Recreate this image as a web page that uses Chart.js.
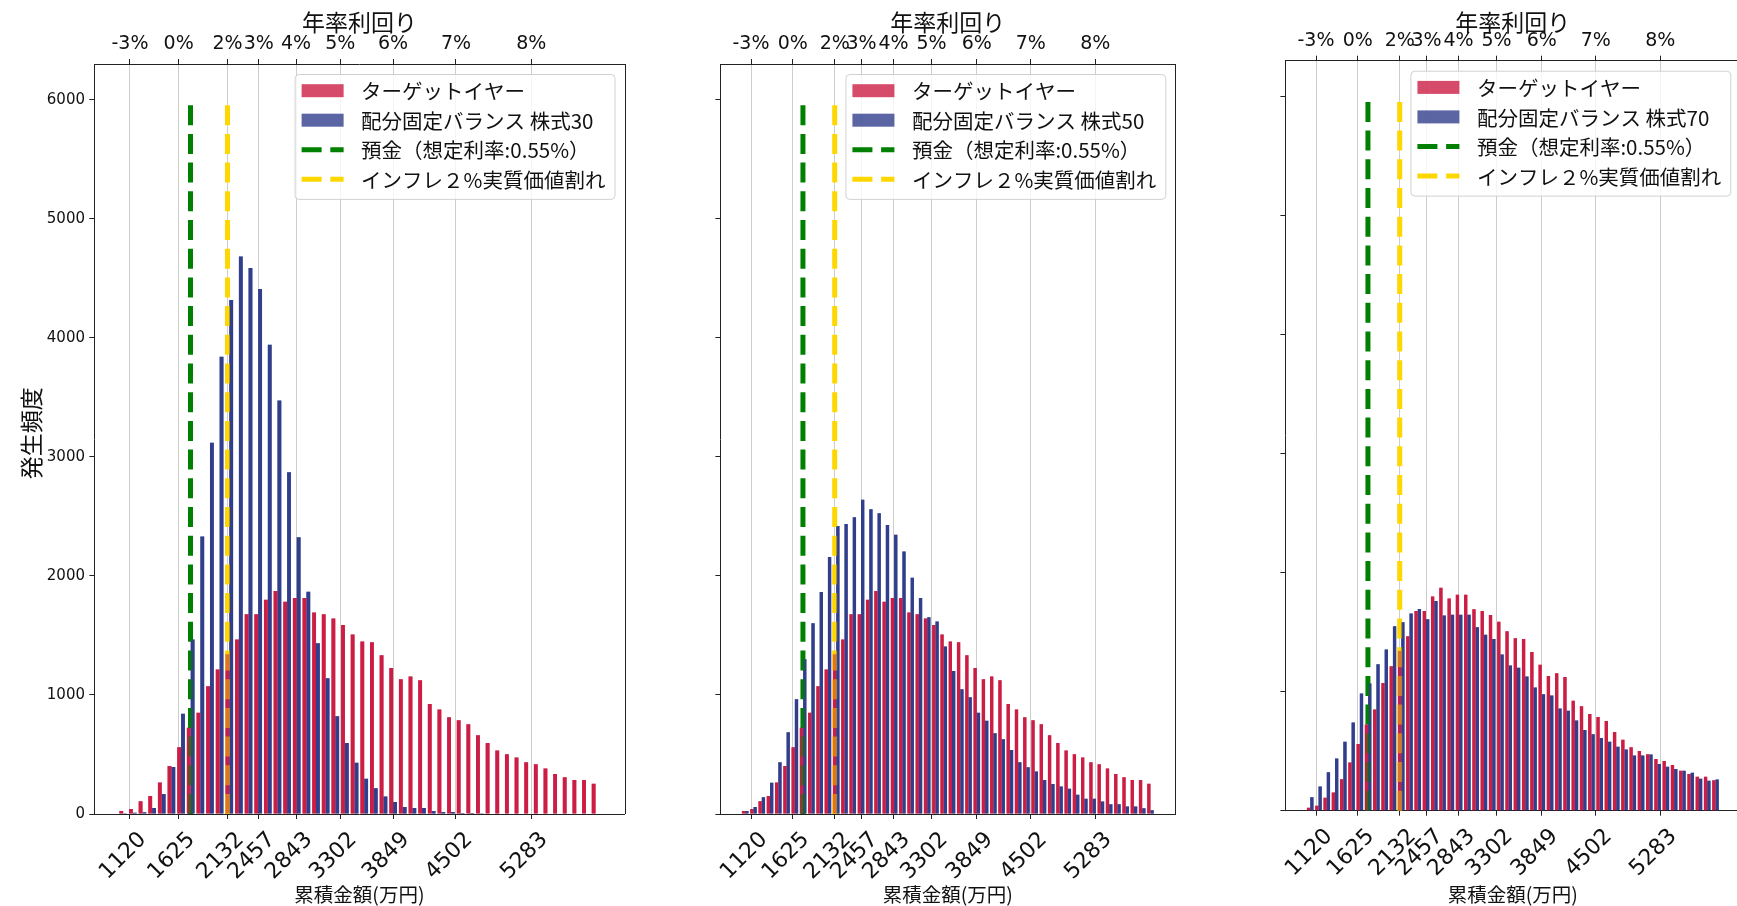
<!DOCTYPE html>
<html>
<head>
<meta charset="utf-8">
<script src="https://cdn.jsdelivr.net/npm/chart.js@4.4.1/dist/chart.umd.min.js"></script>
<style>
  html, body { margin: 0; padding: 0; background: #fff; }
  #wrap { position: relative; width: 1737px; height: 906px; overflow: hidden; background: #fff; }
  #wrap canvas { position: absolute; top: 0; }
</style>
</head>
<body>
<div id="wrap">
  <canvas id="c1" width="640" height="906" style="left:0px"></canvas>
  <canvas id="c2" width="560" height="906" style="left:640px"></canvas>
  <canvas id="c3" width="545" height="906" style="left:1200px"></canvas>
</div>
<script>
// histogram bins (万円), 100 wide
const binCenters = [1050, 1150, 1250, 1350, 1450, 1550, 1650, 1750, 1850, 1950,
  2050, 2150, 2250, 2350, 2450, 2550, 2650, 2750, 2850, 2950,
  3050, 3150, 3250, 3350, 3450, 3550, 3650, 3750, 3850, 3950,
  4050, 4150, 4250, 4350, 4450, 4550, 4650, 4750, 4850, 4950,
  5050, 5150, 5250, 5350, 5450, 5550, 5650, 5750, 5850, 5950];

// ターゲットイヤー (same in all three panels)
const targetYear = [25, 42, 108, 152, 265, 404, 560, 724, 850, 1073,
  1213, 1342, 1465, 1677, 1677, 1799, 1873, 1783, 1815, 1815,
  1693, 1677, 1643, 1587, 1507, 1449, 1443, 1334, 1227, 1131,
  1155, 1123, 924, 877, 812, 787, 753, 662, 597, 533,
  501, 474, 434, 418, 383, 336, 309, 285, 285, 255];

// 配分固定バランス
const balance30 = [3, 10, 15, 50, 167, 395, 843, 1466, 2331, 3118,
  3841, 4318, 4684, 4586, 4409, 3942, 3474, 2871, 2325, 1867,
  1434, 1140, 821, 597, 430, 297, 216, 148, 101, 59,
  50, 50, 25, 17, 17, 8, 8, 3, 0, 5,
  5, 0, 5, 0, 0, 0, 0, 0, 0, 0];
const balance50 = [25, 59, 140, 263, 434, 686, 963, 1299, 1602, 1865,
  2159, 2419, 2436, 2492, 2640, 2559, 2526, 2428, 2346, 2206,
  1985, 1814, 1652, 1618, 1406, 1201, 1047, 980, 851, 784,
  678, 627, 538, 434, 392, 358, 286, 252, 230, 213,
  162, 129, 129, 106, 81, 81, 64, 64, 48, 31];
const balance70 = [112, 204, 324, 439, 579, 741, 985, 1068, 1231, 1354,
  1550, 1583, 1656, 1695, 1608, 1762, 1639, 1647, 1647, 1647,
  1541, 1477, 1443, 1312, 1219, 1200, 1127, 1035, 979, 968,
  859, 839, 758, 677, 643, 610, 579, 537, 515, 464,
  464, 473, 392, 369, 350, 336, 319, 269, 252, 263];

const xTickValues = [1120, 1625, 2132, 2457, 2843, 3302, 3849, 4502, 5283];
const xTickLabels = ['1120', '1625', '2132', '2457', '2843', '3302', '3849', '4502', '5283'];
const topTickLabels = ['-3%', '0%', '2%', '3%', '4%', '5%', '6%', '7%', '8%'];
const yTickValues = [0, 1000, 2000, 3000, 4000, 5000, 6000];

const depositLine = 1748;   // 預金 0.55%
const inflationLine = 2132; // インフレ2%
const lineTop = 6000;

const RED = 'rgb(204,29,69)';
const BLUE = 'rgb(50,62,140)';
const GREEN = 'rgb(0,128,0)';
const GOLD = 'rgb(255,215,0)';
const INK = '#111';
const JP = '"Noto Sans CJK JP", sans-serif';
const NUM = '"DejaVu Sans", sans-serif';

const panels = [
  { id: 'c1', stock: '株式30', counts: balance30, yW: 94.3, padR: 15.5, topH: 64, botH: 92, showY: true },
  { id: 'c2', stock: '株式50', counts: balance50, yW: 80.4, padR: 24.7, topH: 64, botH: 92, showY: false },
  { id: 'c3', stock: '株式70', counts: balance70, yW: 85.4, padR: 4.7, topH: 60.7, botH: 95.3, showY: false },
];

// legend drawn inside the plot, upper right
const insideLegend = {
  id: 'insideLegend',
  afterDraw(chart) {
    const { ctx, chartArea } = chart;
    const items = chart.data.datasets;
    ctx.save();
    ctx.font = '20.5px ' + JP;
    const textW = Math.max(...items.map(d => ctx.measureText(d.label).width));
    const padL = 7, handleW = 42, gap = 17.5, padR = 9, rowH = 29.5, padT = 16.7, padB = 19.7;
    const w = padL + handleW + gap + textW + padR;
    const h = padT + rowH * (items.length - 1) + padB;
    const x0 = chartArea.right - 10 - w;
    const y0 = chartArea.top + 10;
    ctx.beginPath();
    ctx.roundRect(x0 + 0.5, y0 + 0.5, w, h, 4);
    ctx.fillStyle = 'rgba(255,255,255,0.8)';
    ctx.fill();
    ctx.strokeStyle = 'rgba(204,204,204,0.9)';
    ctx.lineWidth = 1;
    ctx.stroke();
    items.forEach((d, i) => {
      const cy = y0 + padT + i * rowH;
      const hx = x0 + padL;
      if (d.type === 'line') {
        ctx.setLineDash(d.borderDash);
        ctx.lineWidth = d.borderWidth;
        ctx.strokeStyle = d.borderColor;
        ctx.lineCap = 'butt';
        ctx.beginPath();
        ctx.moveTo(hx, cy);
        ctx.lineTo(hx + handleW, cy);
        ctx.stroke();
        ctx.setLineDash([]);
      } else {
        ctx.globalAlpha = 0.8;
        ctx.fillStyle = d.backgroundColor;
        ctx.fillRect(hx, cy - 6.5, handleW, 13);
        ctx.globalAlpha = 1;
      }
      ctx.fillStyle = INK;
      ctx.textBaseline = 'middle';
      ctx.textAlign = 'left';
      ctx.fillText(d.label, hx + handleW + gap, cy + 1);
    });
    ctx.restore();
  }
};

// bars re-drawn half transparent over the dashed lines, plus the right spine
const overlay = {
  id: 'overlay',
  afterDatasetsDraw(chart) {
    const { ctx, chartArea } = chart;
    ctx.save();
    ctx.beginPath();
    ctx.rect(chartArea.left, chartArea.top, chartArea.width, chartArea.height);
    ctx.clip();
    ctx.globalAlpha = 0.55;
    [0, 1].forEach(i => chart.getDatasetMeta(i).data.forEach(el => el.draw(ctx)));
    ctx.restore();
    ctx.save();
    ctx.strokeStyle = '#222';
    ctx.lineWidth = 1;
    ctx.beginPath();
    const xr = Math.round(chartArea.right) + 0.5;
    ctx.moveTo(xr, chartArea.top);
    ctx.lineTo(xr, chartArea.bottom);
    ctx.stroke();
    ctx.restore();
  }
};

function makeChart(p) {
  const toXY = arr => arr.map((v, i) => ({ x: binCenters[i], y: v }));
  const vline = x => [{ x: x, y: 0 }, { x: x, y: lineTop }];
  return new Chart(document.getElementById(p.id), {
    type: 'bar',
    data: {
      datasets: [
        { label: 'ターゲットイヤー', data: toXY(targetYear), backgroundColor: RED, order: 2,
          categoryPercentage: 0.8, barPercentage: 1.0, borderWidth: 0 },
        { label: '配分固定バランス ' + p.stock, data: toXY(p.counts), backgroundColor: BLUE, order: 2,
          categoryPercentage: 0.8, barPercentage: 1.0, borderWidth: 0 },
        { type: 'line', label: '預金（想定利率:0.55%）', data: vline(depositLine), borderColor: GREEN,
          borderWidth: 5, borderDash: [20, 8.7], pointRadius: 0, order: 1 },
        { type: 'line', label: 'インフレ２%実質価値割れ', data: vline(inflationLine), borderColor: GOLD,
          borderWidth: 5, borderDash: [20, 8.7], pointRadius: 0, order: 1 },
      ]
    },
    options: {
      responsive: false,
      animation: false,
      layout: { padding: { left: 0, right: p.padR, top: 0, bottom: 0 } },
      plugins: { legend: { display: false }, tooltip: { enabled: false } },
      scales: {
        x: {
          type: 'linear', position: 'bottom', min: 750, max: 6250, offset: false,
          afterBuildTicks: s => { s.ticks = xTickValues.map(v => ({ value: v })); },
          afterFit: s => { s.height = p.botH; },
          ticks: {
            autoSkip: false, minRotation: 45, maxRotation: 45, labelOffset: 13, padding: 8,
            color: INK, font: { family: NUM, size: 22 },
            callback: (v, i) => xTickLabels[i]
          },
          grid: { offset: false, color: '#cdcdcd', lineWidth: 1, tickColor: '#222', tickLength: 5 },
          border: { color: '#222', width: 1 },
          title: { display: true, text: '累積金額(万円)', color: INK, font: { family: JP, size: 19.5 },
            padding: { top: 0, bottom: 0 } }
        },
        x2: {
          type: 'linear', position: 'top', min: 750, max: 6250, offset: false,
          afterBuildTicks: s => { s.ticks = xTickValues.map(v => ({ value: v })); },
          afterFit: s => { s.height = p.topH; },
          ticks: {
            autoSkip: false, minRotation: 0, maxRotation: 0, padding: 3.2,
            color: INK, font: { family: NUM, size: 19 },
            callback: (v, i) => topTickLabels[i]
          },
          grid: { offset: false, drawOnChartArea: false, tickColor: '#222', tickLength: 5 },
          border: { color: '#222', width: 1 },
          title: { display: true, text: '年率利回り', color: INK, font: { family: JP, size: 23 },
            padding: { top: 8, bottom: 0 } }
        },
        y: {
          type: 'linear', position: 'left', min: 0, max: 6300,
          afterBuildTicks: s => { s.ticks = yTickValues.map(v => ({ value: v })); },
          afterFit: s => { s.width = p.yW; },
          ticks: {
            padding: 4.3, color: INK, font: { family: NUM, size: 15 },
            callback: v => (p.showY ? String(v) : '')
          },
          grid: { drawOnChartArea: false, tickColor: '#222', tickLength: 5 },
          border: { color: '#222', width: 1 },
          title: { display: p.showY, text: '\u2002発生頻度', color: INK, font: { family: JP, size: 23 },
            padding: { top: 17, bottom: 0 } }
        }
      }
    },
    plugins: [overlay, insideLegend]
  });
}

panels.forEach(makeChart);
</script>
</body>
</html>
